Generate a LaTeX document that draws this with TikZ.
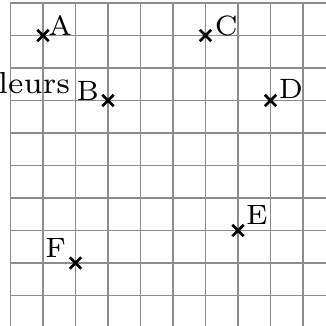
\documentclass[tikz,border=0pt]{standalone}
\begin{document}
\begin{tikzpicture}[x=0.5cm,y=0.5cm,
  gridline/.style={draw=gray!90, line width=0.65pt},
  crossmark/.style={draw=black, line width=1.2pt},
  ptlabel/.style={inner sep=0pt, font=\fontsize{7}{8}\selectfont, scale=1.75},
  txt/.style={inner sep=0pt, font=\fontsize{7}{8}\selectfont, scale=1.9}]
\useasboundingbox (-0.323,0.062) rectangle (9.677,10.092);
\draw[gridline, step=0.5cm] (0,0) grid (10,10);
% points
\coordinate (A) at (1,9);
\coordinate (C) at (6,9);
\coordinate (B) at (3,7);
\coordinate (D) at (8,7);
\coordinate (E) at (7,3);
\coordinate (F) at (2,2);
\foreach \p in {A,B,C,D,E,F}{
  \draw[crossmark] (\p) +(-2.5pt,-2.5pt) -- +(2.5pt,2.5pt)
                   (\p) +(-2.5pt,2.5pt) -- +(2.5pt,-2.5pt);
}
% labels
\node[ptlabel, anchor=base west] (lA) at ([xshift=2.0pt]A) {A};
\node[ptlabel, anchor=base west] (lC) at ([xshift=3.8pt]C) {C};
\node[ptlabel, anchor=base east] (lB) at ([xshift=-3.6pt]B) {B};
\node[ptlabel, anchor=base west] (lD) at ([xshift=3.3pt,yshift=0.9pt]D) {D};
\node[ptlabel, anchor=base west] (lE) at ([xshift=3.2pt,yshift=2.6pt]E) {E};
\node[ptlabel, anchor=base east] (lF) at ([xshift=-3.8pt,yshift=2.6pt]F) {F};
\node[txt, anchor=base east] (t) at (1.86,7.2) {leurs};
\end{tikzpicture}
\end{document}
